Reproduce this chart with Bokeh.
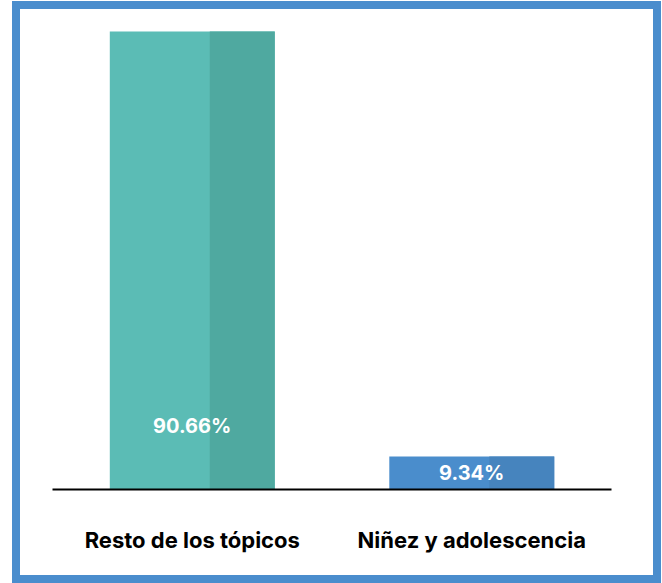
from bokeh.plotting import figure
from bokeh.models import ColumnDataSource, FactorRange, Range1d
from bokeh.transform import dodge
from bokeh.core.properties import value
from bokeh.embed import file_html
from bokeh.resources import INLINE

# ---- data ----
categories = ["Resto de los tópicos", "Niñez y adolescencia"]
shares = [90.66, 9.34]
share_labels = ["90.66%", "9.34%"]

# ---- styling ----
light_colors = ["#5bbcb5", "#4a8dcc"]
dark_colors = ["#4fa9a0", "#4684be"]
label_lift = [-64, -17]   # pixel offset of value labels above the baseline
FONT = "Inter"
BASE = 3.03

src = ColumnDataSource(dict(cat=categories, val=shares, lab=share_labels,
                            light=light_colors, dark=dark_colors,
                            lift=label_lift, base=[BASE] * len(shares)))

p = figure(width=649, height=582, x_range=FactorRange(*categories),
           y_range=Range1d(BASE, 92.0), output_backend="svg",
           toolbar_location=None, min_border_left=32, min_border_right=58,
           min_border_top=15, min_border_bottom=102,
           margin=(1, 0, 0, 12),
           styles={"border": "8px solid #4a8dcd"})

p.vbar(x="cat", bottom="base", top="val", width=0.59, source=src,
       fill_color="light", line_color=None)
p.vbar(x=dodge("cat", 0.179, range=p.x_range), bottom="base", top="val",
       width=0.2326, source=src, fill_color="dark", line_color=None)

p.text(x="cat", y="base", text="lab", y_offset="lift", source=src,
       text_color="white", text_font=value(FONT), text_font_style="bold",
       text_font_size="20px", text_align="center", text_baseline="alphabetic")

p.yaxis.visible = False
p.xgrid.grid_line_color = None
p.ygrid.grid_line_color = None
p.outline_line_color = None
ax = p.xaxis[0]
ax.axis_line_color = "black"
ax.axis_line_width = 2
ax.major_tick_line_color = None
ax.minor_tick_line_color = None
ax.major_label_standoff = 31
ax.major_label_text_font = FONT
ax.major_label_text_font_style = "bold"
ax.major_label_text_font_size = "22px"
ax.major_label_text_color = "black"

open("out.html", "w").write(file_html(p, INLINE))
